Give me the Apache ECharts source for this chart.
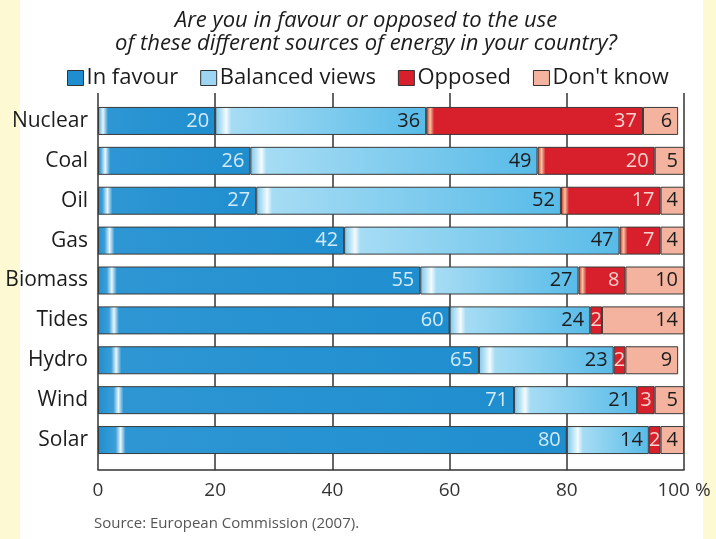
<!DOCTYPE html>
<html>
<head>
<meta charset="utf-8">
<script src="https://cdn.jsdelivr.net/npm/echarts@6/dist/echarts.min.js"></script>
<style>
html,body{margin:0;padding:0;background:#fdf9d2;}
#c{width:716px;height:539px;}
</style>
</head>
<body>
<div id="c"></div>
<script>
const categories = ['Nuclear','Coal','Oil','Gas','Biomass','Tides','Hydro','Wind','Solar'];
const inFavour = [20,26,27,42,55,60,65,71,80];
const balanced = [36,49,52,47,27,24,23,21,14];
const opposed  = [37,20,17,7,8,2,2,3,2];
const dontKnow = [6,5,4,4,10,14,9,5,4];
const xTicks = [0,20,40,60,80,100];
const titleLines = ['Are you in favour or opposed to the use','of these different sources of energy in your country?'];
const sourceText = 'Source: European Commission (2007).';

const FONT = '"Open Sans", sans-serif';
const GL = 98, GW = 586;
const pxPer = GW / 100;
const G = echarts.graphic;

function favourColor(v, k) {
  const len = v * pxPer;
  const o = (5 + k * 2.2) / len, w = 5 / len;
  return new G.LinearGradient(0, 0, 1, 0, [
    {offset: 0, color: '#1f8ecf'},
    {offset: Math.max(0, o - w), color: '#3b9fd8'},
    {offset: o, color: '#eaf6fc'},
    {offset: Math.min(1, o + w), color: '#2e96d3'},
    {offset: 1, color: '#1f8ecf'}
  ]);
}
function balancedColor(v) {
  const len = v * pxPer, o = 11 / len, w = 5 / len;
  return new G.LinearGradient(0, 0, 1, 0, [
    {offset: 0, color: '#7fc6ea'},
    {offset: Math.max(0, o - w), color: '#b9e3f6'},
    {offset: o, color: '#f4fbfe'},
    {offset: o + w, color: '#a6dcf4'},
    {offset: 1, color: '#58bbe8'}
  ]);
}
function opposedColor(v) {
  if (v < 5) return '#d7202b';
  const len = v * pxPer;
  return new G.LinearGradient(0, 0, 1, 0, [
    {offset: 0, color: '#c8281c'},
    {offset: 4 / len, color: '#f7c6a4'},
    {offset: 8 / len, color: '#d7202b'},
    {offset: 1, color: '#d7202b'}
  ]);
}

function mk(name, vals, base, labelColor, colorFn, smallInside) {
  return {
    name, type: 'bar', stack: 'all', barWidth: 28,
    xAxisIndex: 0, yAxisIndex: 0,
    itemStyle: {color: base, borderColor: '#3a3a3a', borderWidth: 1},
    label: {show: true, position: 'insideRight', distance: 6, color: labelColor,
            fontFamily: FONT, fontSize: 20},
    data: vals.map((v, i) => {
      const d = {value: v, itemStyle: {color: colorFn(v, i)}};
      if (smallInside && v < 5) d.label = {position: 'inside', distance: 0};
      return d;
    })
  };
}

const series = [
  mk('In favour', inFavour, '#1f8ecf', '#d3ebf7', favourColor, false),
  mk('Balanced views', balanced, '#8fd0f1', '#1c1c1c', balancedColor, false),
  mk('Opposed', opposed, '#d7202b', '#f6d2cc', opposedColor, true),
  mk('Don\'t know', dontKnow, '#f3b39e', '#1c1c1c', () => '#f3b39e', true)
];
series.push({type: 'scatter', xAxisIndex: 1, yAxisIndex: 1, data: [], silent: true});

const chart = echarts.init(document.getElementById('c'), null, {renderer: 'canvas'});
chart.setOption({
  backgroundColor: '#fdf9d2',
  animation: false,
  graphic: [
    {type: 'rect', shape: {x: 20, y: 0, width: 683, height: 539}, style: {fill: '#ffffff'}, z: -10, silent: true},
    {type: 'text', x: 366, y: 21, z: 10, style: {
      text: titleLines[0], fontFamily: FONT, fontStyle: 'italic', fontSize: 22,
      fill: '#1c1c1c', align: 'center', verticalAlign: 'middle'}},
    {type: 'text', x: 366, y: 44, z: 10, style: {
      text: titleLines[1], fontFamily: FONT, fontStyle: 'italic', fontSize: 22,
      fill: '#1c1c1c', align: 'center', verticalAlign: 'middle'}},
    {type: 'text', x: 94, y: 524, z: 10, style: {
      text: sourceText, fontFamily: FONT, fontSize: 15, fill: '#555555', verticalAlign: 'middle'}}
  ],
  legend: {
    top: 62, left: 62, itemGap: 22, itemWidth: 16, itemHeight: 15, icon: 'rect',
    textStyle: {fontFamily: FONT, fontSize: 22, color: '#1c1c1c', padding: [0, 0, 0, -2]},
    data: [
      {name: 'In favour', itemStyle: {color: '#1f8ecf', borderColor: '#333', borderWidth: 1}},
      {name: 'Balanced views', itemStyle: {color: '#9dd6f2', borderColor: '#333', borderWidth: 1}},
      {name: 'Opposed', itemStyle: {color: '#d7202b', borderColor: '#333', borderWidth: 1}},
      {name: 'Don\'t know', itemStyle: {color: '#f3b39e', borderColor: '#333', borderWidth: 1}}
    ]
  },
  grid: [
    {left: GL, width: GW, top: 101, height: 359},
    {left: GL, width: GW, top: 93, height: 377}
  ],
  xAxis: [
    {gridIndex: 0, type: 'value', min: 0, max: 100, interval: 20, show: false},
    {gridIndex: 1, type: 'value', min: 0, max: 100, interval: 20,
     axisLine: {show: true, lineStyle: {color: '#333', width: 1.5}},
     axisTick: {show: false},
     splitLine: {show: true, lineStyle: {color: '#333', width: 1.5}},
     axisLabel: {margin: 11, fontFamily: FONT, fontSize: 19, color: '#333',
       formatter: v => xTicks.includes(v) ? (v === 100 ? '100 %' : String(v)) : ''}}
  ],
  yAxis: [
    {gridIndex: 0, type: 'category', data: categories, inverse: true,
     axisLine: {show: false}, axisTick: {show: false},
     axisLabel: {margin: 10, fontFamily: FONT, fontSize: 21, color: '#1c1c1c'}},
    {gridIndex: 1, type: 'value', show: false}
  ],
  series
});
</script>
</body>
</html>
